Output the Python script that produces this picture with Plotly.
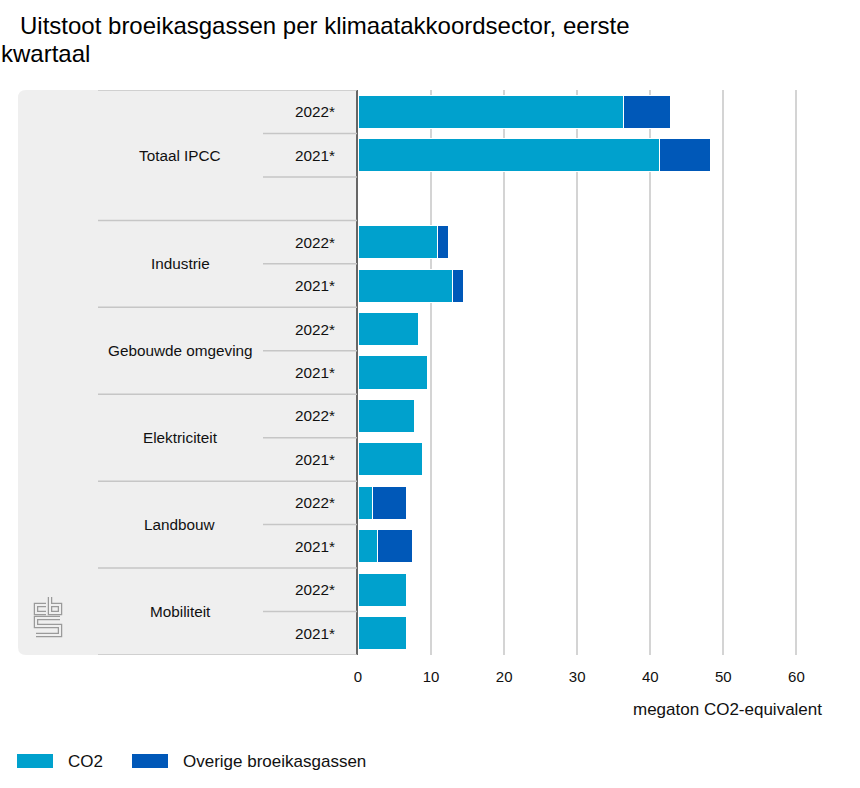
import plotly.graph_objects as go

# ---------------- data ----------------
categories = ["Totaal IPCC", "Industrie", "Gebouwde omgeving", "Elektriciteit", "Landbouw", "Mobiliteit"]
years = ["2022*", "2021*"]
co2_2022 = [36.3, 10.9, 8.3, 7.7, 2.0, 6.7]
co2_2021 = [41.3, 13.0, 9.45, 8.85, 2.6, 6.7]
overig_2022 = [6.5, 1.5, None, None, 4.7, None]
overig_2021 = [6.9, 1.4, None, None, 4.9, None]
series_names = ["CO2", "Overige broeikasgassen"]
x_ticks = [0, 10, 20, 30, 40, 50, 60]
x_title = "megaton CO2-equivalent"
title_lines = ["Uitstoot broeikasgassen per klimaatakkoordsector, eerste", "kwartaal"]

# ---------------- layout constants ----------------
W, H = 860, 788
L, R, T, B = 358, 38, 90, 133
PW, PH = W - L - R, H - T - B
C_CO2 = "#00a1cd"
C_OV = "#0058b8"
PANEL = "#efefef"
SEP = "#c6c6c6"
FONT = "Liberation Sans, Arial, Helvetica, sans-serif"
TXT = "#111"


def px(x):
    return (x - L) / PW


def py(y):
    return (H - B - y) / PH


# build rows (top to bottom)
rows = []  # (cat_index, year_label)
co2_vals, ov_vals = [], []
group_spans = []
for i, cat in enumerate(categories):
    start = len(rows)
    for yr, cv, ov in ((years[0], co2_2022[i], overig_2022[i]), (years[1], co2_2021[i], overig_2021[i])):
        rows.append((i, yr))
        co2_vals.append(cv)
        ov_vals.append(ov)
    if i == 0:
        rows.append((i, ""))
        co2_vals.append(None)
        ov_vals.append(None)
    group_spans.append((start, len(rows) - 1))

ypos = list(range(len(rows)))
n = len(rows)

fig = go.Figure()
fig.add_trace(go.Bar(
    x=co2_vals, y=ypos, orientation="h", name=series_names[0],
    marker=dict(color=C_CO2, line=dict(color="white", width=1)),
))
fig.add_trace(go.Bar(
    x=ov_vals, y=ypos, orientation="h", name=series_names[1],
    marker=dict(color=C_OV, line=dict(color="white", width=1)),
))

shapes = []
annotations = []

# grey panel with rounded left corners
x0, x1 = px(18), px(358)
rx, ry = 8 / PW, 8 / PH
panel_path = (f"M {x1},1 L {x0 + rx},1 Q {x0},1 {x0},{1 - ry} L {x0},{ry} "
              f"Q {x0},0 {x0 + rx},0 L {x1},0 Z")
shapes.append(dict(type="path", path=panel_path, xref="paper", yref="paper",
                   fillcolor=PANEL, line=dict(width=0), layer="below"))

# separators
for gi, (s, e) in enumerate(group_spans):
    for yb in ([s - 0.5] if gi == 0 else []) + [e + 0.5]:
        shapes.append(dict(type="line", xref="paper", yref="y", x0=px(98), x1=px(357),
                           y0=yb, y1=yb, line=dict(color=SEP, width=1.5), layer="above"))
    for k in range(s, e):
        shapes.append(dict(type="line", xref="paper", yref="y", x0=px(263), x1=px(357),
                           y0=k + 0.5, y1=k + 0.5, line=dict(color=SEP, width=1.5), layer="above"))
    annotations.append(dict(text=categories[gi], xref="paper", yref="y", x=px(180),
                            y=(s + e) / 2, xanchor="center", yanchor="middle", showarrow=False,
                            font=dict(size=15.3, color=TXT, family=FONT)))

# year labels
for k, (ci, yr) in enumerate(rows):
    if yr:
        annotations.append(dict(text=yr, xref="paper", yref="y", x=px(337), y=k,
                                xanchor="right", yanchor="middle", showarrow=False,
                                font=dict(size=15.3, color=TXT, family=FONT)))

# CBS logo (decorative)
logo_paths = [
    [(46, 605), (36, 605), (36, 613), (46, 613)],
    [(50, 597), (50, 613), (60, 613), (60, 605), (50, 605)],
    [(60, 618), (36, 618), (36, 626), (60, 626), (60, 635), (36, 635)],
]
for pts in logo_paths:
    p = "M " + " L ".join(f"{px(a)},{py(b)}" for a, b in pts)
    shapes.append(dict(type="path", path=p, xref="paper", yref="paper",
                       line=dict(color="#9a9a9a", width=4.5), layer="above"))
    shapes.append(dict(type="path", path=p, xref="paper", yref="paper",
                       line=dict(color=PANEL, width=2), layer="above"))

# title
annotations.append(dict(text=title_lines[0], xref="paper", yref="paper", x=px(18), y=py(25.5),
                        xanchor="left", yanchor="middle", showarrow=False,
                        font=dict(size=24, color="#000", family=FONT)))
annotations.append(dict(text=title_lines[1], xref="paper", yref="paper", x=px(-1), y=py(53.5),
                        xanchor="left", yanchor="middle", showarrow=False,
                        font=dict(size=24, color="#000", family=FONT)))

# axis title
annotations.append(dict(text=x_title, xref="paper", yref="paper", x=px(824), y=py(709),
                        xanchor="right", yanchor="middle", showarrow=False,
                        font=dict(size=17, color=TXT, family=FONT)))

# legend (manual)
leg = [(17, C_CO2, 66, series_names[0]), (132, C_OV, 181, series_names[1])]
for sx, col, tx, name in leg:
    shapes.append(dict(type="rect", xref="paper", yref="paper", x0=px(sx), x1=px(sx + 36),
                       y0=py(754), y1=py(768), fillcolor=col, line=dict(width=0)))
    annotations.append(dict(text=name, xref="paper", yref="paper", x=px(tx), y=py(761),
                            xanchor="left", yanchor="middle", showarrow=False,
                            font=dict(size=17, color=TXT, family=FONT)))

fig.update_layout(
    width=W, height=H,
    margin=dict(l=L, r=R, t=T, b=B, pad=0),
    paper_bgcolor="white", plot_bgcolor="white",
    barmode="stack", bargap=0.24,
    showlegend=False,
    shapes=shapes, annotations=annotations,
    font=dict(family=FONT, size=15, color=TXT),
    xaxis=dict(range=[0, 63.5], tickvals=x_ticks, showgrid=True, gridcolor="#d4d4d4",
               gridwidth=1.5, zeroline=False, showline=False, ticks="",
               ticklabelstandoff=11,
               tickfont=dict(size=15, color=TXT), fixedrange=True),
    yaxis=dict(range=[n - 0.5, -0.5], showticklabels=False, showgrid=False, zeroline=False,
               showline=True, linecolor="#666", linewidth=2, ticks="", fixedrange=True),
)

fig.write_html("out.html", config={"displayModeBar": False},
               post_script="document.body.style.margin='0px';")
